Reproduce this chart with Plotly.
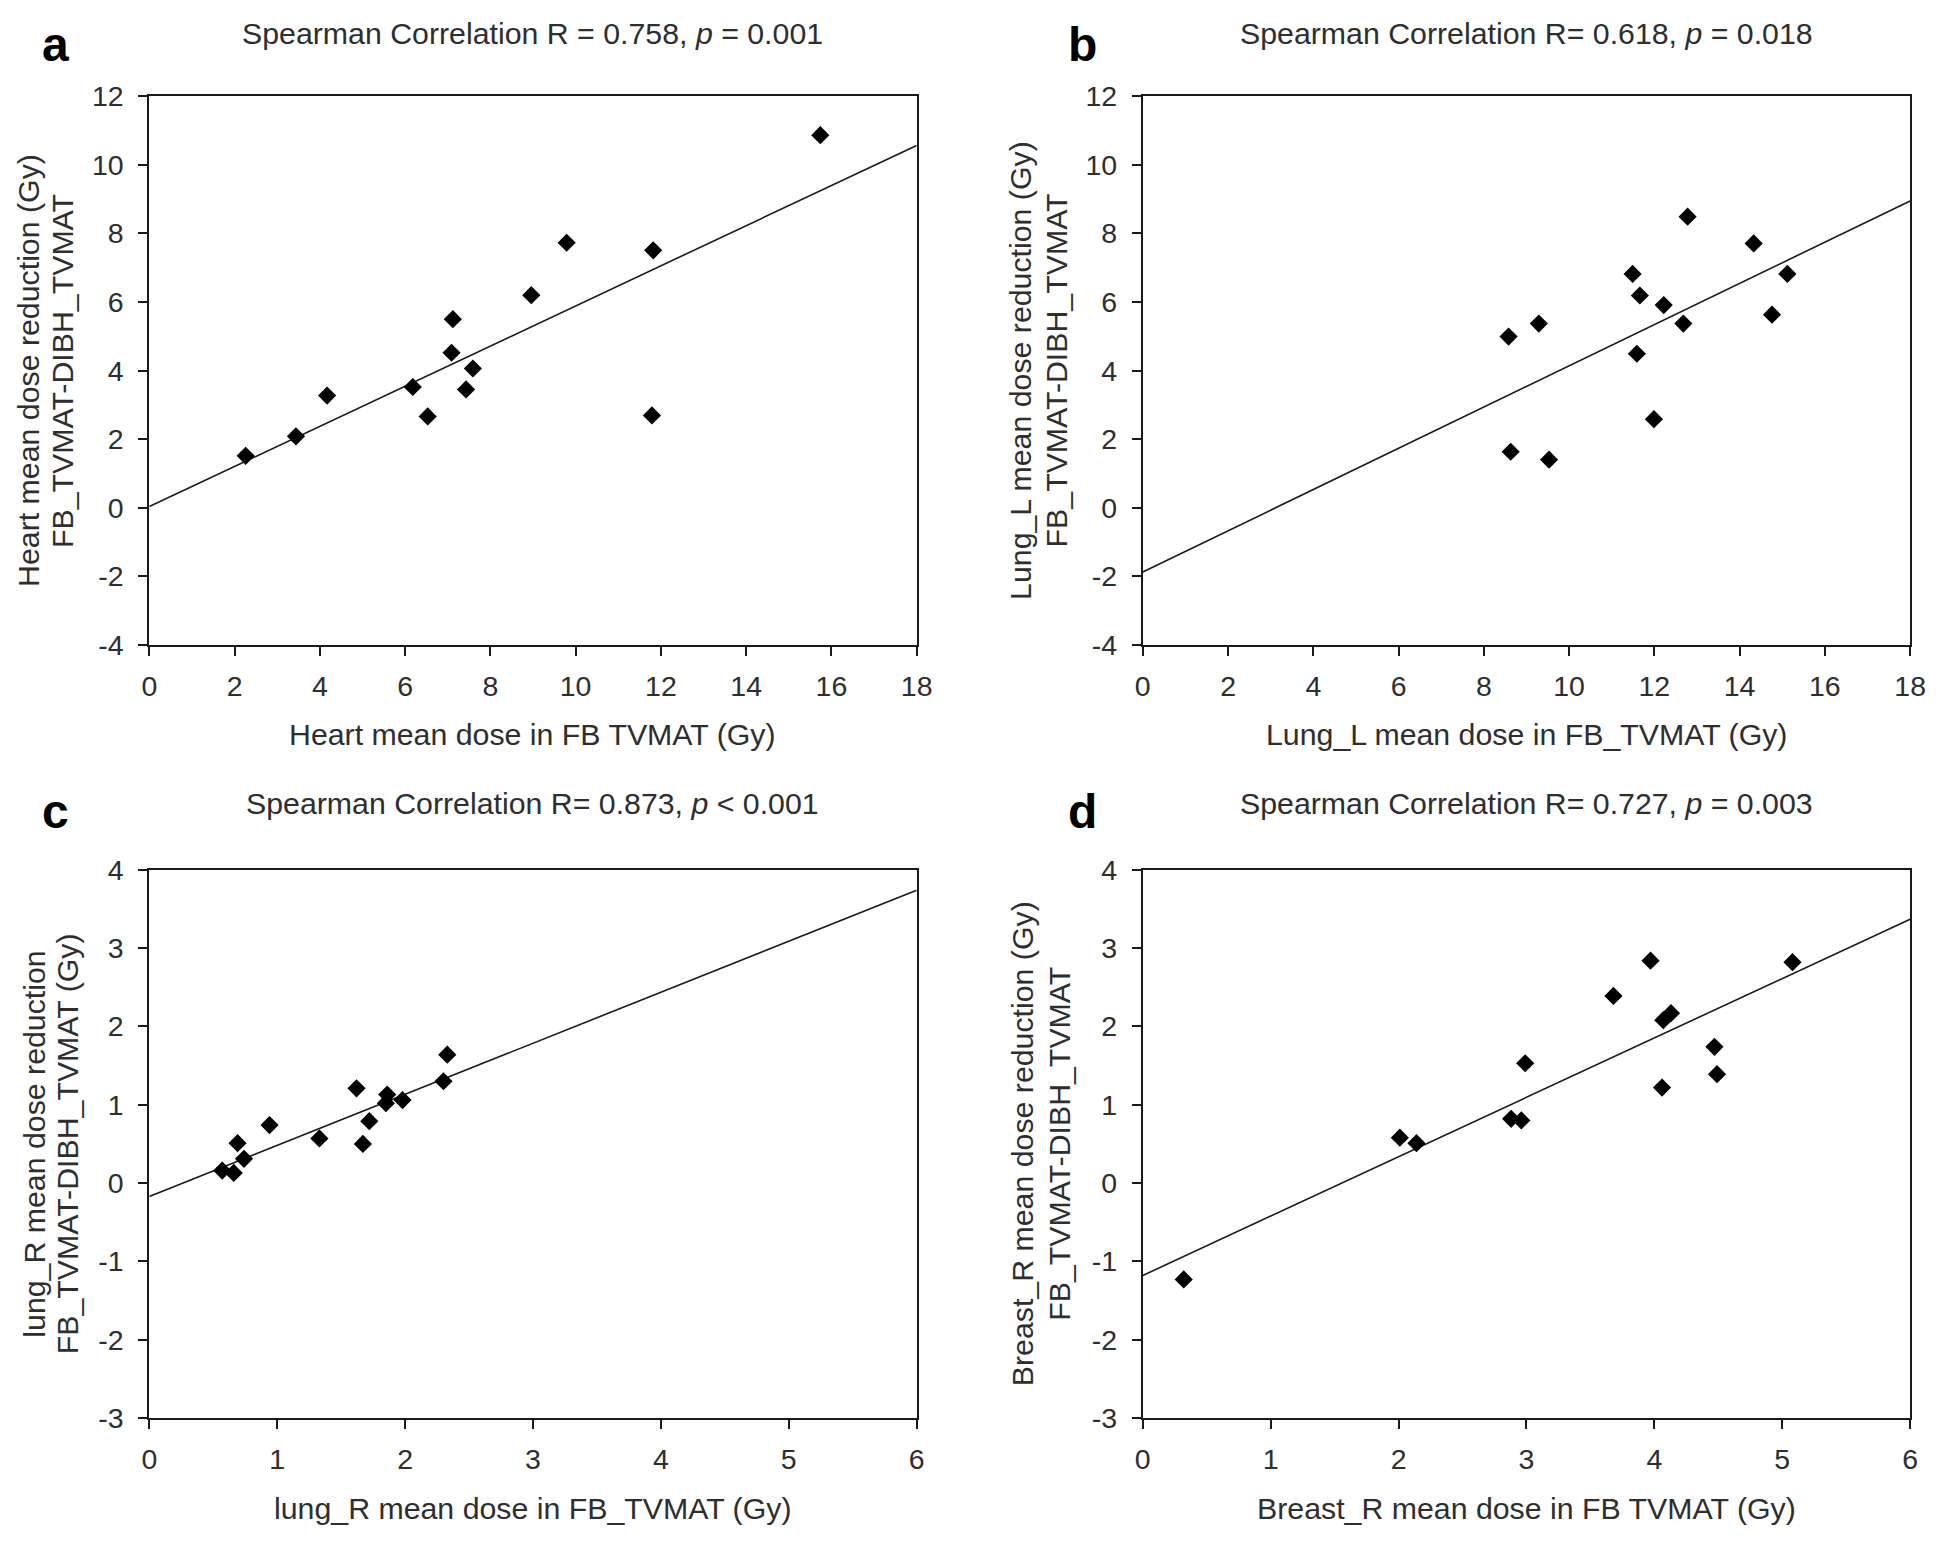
import plotly.graph_objects as go

# ---------------- data ----------------
# Panel a: Heart
heart_x = [2.26, 3.44, 4.17, 6.18, 6.53, 7.12, 7.09, 7.43, 7.59, 8.96, 9.79, 11.82, 11.79, 15.74]
heart_y = [1.51, 2.08, 3.27, 3.52, 2.66, 5.50, 4.52, 3.45, 4.06, 6.20, 7.73, 7.51, 2.69, 10.87]
heart_fit_x = [0, 18]
heart_fit_y = [0.03, 10.57]

# Panel b: Lung_L
lungL_x = [8.58, 8.63, 9.29, 9.53, 11.49, 11.66, 11.59, 11.99, 12.22, 12.68, 12.78, 14.33, 14.76, 15.12]
lungL_y = [4.99, 1.63, 5.37, 1.40, 6.82, 6.19, 4.49, 2.58, 5.91, 5.37, 8.49, 7.71, 5.63, 6.82]
lungL_fit_x = [0, 18]
lungL_fit_y = [-1.88, 8.95]

# Panel c: lung_R
lungR_x = [0.57, 0.66, 0.69, 0.74, 0.94, 1.33, 1.62, 1.67, 1.72, 1.85, 1.86, 1.98, 2.30, 2.33]
lungR_y = [0.16, 0.13, 0.51, 0.31, 0.74, 0.57, 1.21, 0.50, 0.79, 1.02, 1.13, 1.06, 1.30, 1.64]
lungR_fit_x = [0, 6]
lungR_fit_y = [-0.17, 3.74]

# Panel d: Breast_R
breastR_x = [0.32, 2.01, 2.14, 2.88, 2.96, 2.99, 3.68, 3.97, 4.06, 4.07, 4.13, 4.47, 4.49, 5.08]
breastR_y = [-1.23, 0.58, 0.51, 0.82, 0.80, 1.53, 2.39, 2.84, 1.22, 2.08, 2.17, 1.74, 1.39, 2.82]
breastR_fit_x = [0, 6]
breastR_fit_y = [-1.18, 3.37]

# tick values
ticks_x_18 = [0, 2, 4, 6, 8, 10, 12, 14, 16, 18]
ticks_y_12 = [-4, -2, 0, 2, 4, 6, 8, 10, 12]
ticks_x_6 = [0, 1, 2, 3, 4, 5, 6]
ticks_y_4 = [-3, -2, -1, 0, 1, 2, 3, 4]

panel_letters = ["a", "b", "c", "d"]
panel_titles = [
    "Spearman Correlation R = 0.758, <i>p</i> = 0.001",
    "Spearman Correlation R= 0.618, <i>p</i> = 0.018",
    "Spearman Correlation R= 0.873, <i>p</i> &lt; 0.001",
    "Spearman Correlation R= 0.727, <i>p</i> = 0.003",
]
x_titles = [
    "Heart mean dose in FB TVMAT (Gy)",
    "Lung_L mean dose in FB_TVMAT (Gy)",
    "lung_R mean dose in FB_TVMAT (Gy)",
    "Breast_R mean dose in FB TVMAT (Gy)",
]
y_titles_line1 = [
    "Heart mean dose reduction (Gy)",
    "Lung_L mean dose reduction (Gy)",
    "lung_R mean dose reduction",
    "Breast_R mean dose reduction (Gy)",
]
y_titles_line2 = [
    "FB_TVMAT-DIBH_TVMAT",
    "FB_TVMAT-DIBH_TVMAT",
    "FB_TVMAT-DIBH_TVMAT (Gy)",
    "FB_TVMAT-DIBH_TVMAT",
]

# ---------------- layout geometry (target page pixels) ----------------
PAGE_OFF = 8            # default <body> margin of the written html page
W, H = 1928, 1520       # figure size (fits inside the 1946x1546 window with margins)

FONT = "Liberation Sans, Arial, Helvetica, sans-serif"
TXT = "#2e2e2e"
cols = [(143, 920), (1149, 1926)]
rows = [(82, 642), (872, 1432)]
ytitle_offsets = [(122.5, 88), (124, 87), (116, 82), (121, 84)]

panels = [
    dict(x=heart_x, y=heart_y, fx=heart_fit_x, fy=heart_fit_y,
         xr=[0, 18], yr=[-4, 12], xt=ticks_x_18, yt=ticks_y_12, c=0, r=0),
    dict(x=lungL_x, y=lungL_y, fx=lungL_fit_x, fy=lungL_fit_y,
         xr=[0, 18], yr=[-4, 12], xt=ticks_x_18, yt=ticks_y_12, c=1, r=0),
    dict(x=lungR_x, y=lungR_y, fx=lungR_fit_x, fy=lungR_fit_y,
         xr=[0, 6], yr=[-3, 4], xt=ticks_x_6, yt=ticks_y_4, c=0, r=1),
    dict(x=breastR_x, y=breastR_y, fx=breastR_fit_x, fy=breastR_fit_y,
         xr=[0, 6], yr=[-3, 4], xt=ticks_x_6, yt=ticks_y_4, c=1, r=1),
]


def px(v):
    return (v - PAGE_OFF) / W


def py(v):
    return 1 - (v - PAGE_OFF) / H


def labels(vals):
    return [str(v) for v in vals]   # plain hyphen minus like the reference


fig = go.Figure()
annotations = []
layout_axes = {}

for i, p in enumerate(panels):
    n = "" if i == 0 else str(i + 1)
    xa, ya = "x" + n, "y" + n
    x0, x1 = cols[p["c"]]
    y0, y1 = rows[p["r"]]

    fig.add_trace(go.Scatter(
        x=p["fx"], y=p["fy"], mode="lines", xaxis=xa, yaxis=ya,
        line=dict(color="#1a1a1a", width=1.6), showlegend=False, hoverinfo="skip"))
    fig.add_trace(go.Scatter(
        x=p["x"], y=p["y"], mode="markers", xaxis=xa, yaxis=ya,
        marker=dict(symbol="diamond", size=14, color="black"), showlegend=False))

    axis_common = dict(
        showline=True, linecolor="#1a1a1a", linewidth=2, mirror=True,
        ticks="outside", ticklen=9, tickwidth=2, tickcolor="#1a1a1a",
        showgrid=False, zeroline=False,
        tickfont=dict(family=FONT, size=28.5, color=TXT),
    )
    layout_axes["xaxis" + n] = dict(
        axis_common, domain=[px(x0), px(x1)], range=p["xr"],
        tickmode="array", tickvals=p["xt"], ticktext=labels(p["xt"]),
        anchor=ya, ticklabelstandoff=6)
    layout_axes["yaxis" + n] = dict(
        axis_common, domain=[py(y1), py(y0)], range=p["yr"],
        tickmode="array", tickvals=p["yt"], ticktext=labels(p["yt"]),
        anchor=xa, ticklabelstandoff=9)

    cx = (x0 + x1) / 2
    cy = (y0 + y1) / 2
    top_row = p["r"] == 0
    # panel title
    annotations.append(dict(
        text=panel_titles[i], x=px(cx), y=py(y0 - (64 if top_row else 68)),
        xref="paper", yref="paper", xanchor="center", yanchor="middle", showarrow=False,
        font=dict(family=FONT, size=30.3, color=TXT)))
    # panel letter
    lx = x0 - 95 if p["c"] == 0 else x0 - 61
    annotations.append(dict(
        text="<b>" + panel_letters[i] + "</b>", x=px(lx),
        y=py(y0 - (53 if top_row else 60)), xref="paper", yref="paper",
        xanchor="center", yanchor="middle", showarrow=False,
        font=dict(family=FONT, size=48, color="black")))
    # x title
    annotations.append(dict(
        text=x_titles[i], x=px(cx), y=py(y1 + 92), xref="paper", yref="paper",
        xanchor="center", yanchor="middle", showarrow=False,
        font=dict(family=FONT, size=30.3, color=TXT)))
    # y title (two lines)
    off1, off2 = ytitle_offsets[i]
    for txt, off in ((y_titles_line1[i], off1), (y_titles_line2[i], off2)):
        annotations.append(dict(
            text=txt, x=px(x0 - off), y=py(cy), xref="paper", yref="paper",
            xanchor="center", yanchor="middle", showarrow=False, textangle=-90,
            font=dict(family=FONT, size=30.3, color=TXT)))

fig.update_layout(
    width=W, height=H,
    margin=dict(l=0, r=0, t=0, b=0),
    paper_bgcolor="white", plot_bgcolor="white",
    font=dict(family=FONT, color=TXT),
    annotations=annotations,
    **layout_axes,
)

fig.write_html("out.html")
